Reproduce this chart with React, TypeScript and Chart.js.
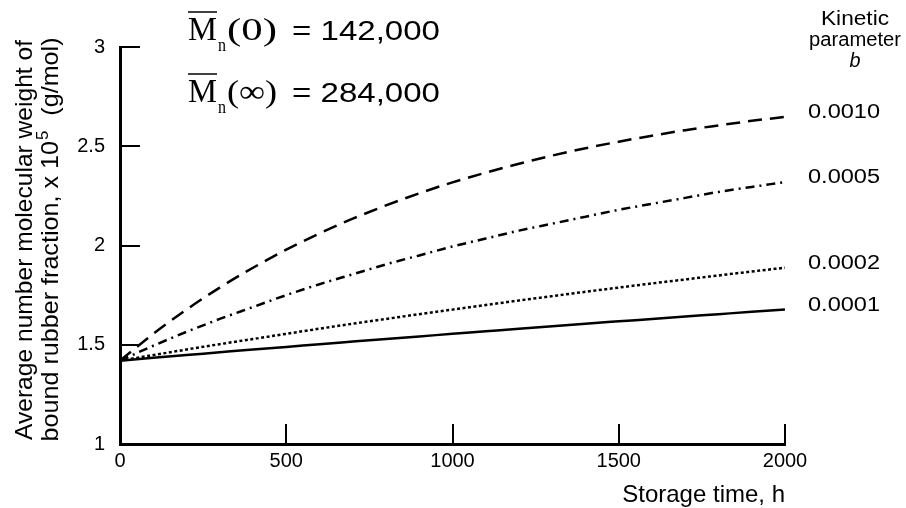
import React, { useEffect, useRef } from 'react';
import { Chart, registerables } from 'chart.js';

Chart.register(...registerables);

// Storage time, h
const timeHours = [0, 100, 200, 300, 400, 500, 600, 700, 800, 900, 1000, 1100, 1200, 1300, 1400, 1500, 1600, 1700, 1800, 1900, 2000];

// Average number molecular weight (x 10^5 g/mol)
const mnB0010 = [1.42, 1.555, 1.677, 1.788, 1.888, 1.979, 2.061, 2.135, 2.202, 2.263, 2.318, 2.367, 2.412, 2.453, 2.49, 2.523, 2.553, 2.581, 2.605, 2.628, 2.648];
const mnB0005 = [1.42, 1.495, 1.565, 1.63, 1.69, 1.75, 1.805, 1.855, 1.905, 1.95, 1.995, 2.035, 2.075, 2.11, 2.145, 2.18, 2.21, 2.24, 2.27, 2.295, 2.32];
const mnB0002 = [1.42, 1.448, 1.476, 1.503, 1.529, 1.555, 1.581, 1.606, 1.63, 1.654, 1.677, 1.7, 1.723, 1.745, 1.767, 1.788, 1.809, 1.829, 1.849, 1.869, 1.888];
const mnB0001 = [1.42, 1.434, 1.448, 1.462, 1.476, 1.489, 1.503, 1.516, 1.529, 1.542, 1.555, 1.568, 1.581, 1.593, 1.606, 1.618, 1.63, 1.642, 1.654, 1.666, 1.677];

const seriesLabels = ['0.0010', '0.0005', '0.0002', '0.0001'];
const seriesValues = [mnB0010, mnB0005, mnB0002, mnB0001];

const xTickStep = 500;
const yTickStep = 0.5;
const xRange = [0, 2000];
const yRange = [1, 3];

const SANS = '"Liberation Sans", Arial, Helvetica, sans-serif';
const SERIF = '"Liberation Serif", "Times New Roman", serif';

function drawFit(ctx: CanvasRenderingContext2D, text: string, x: number, y: number, width: number, align: CanvasTextAlign) {
  const w = ctx.measureText(text).width;
  const sx = w > 0 ? width / w : 1;
  ctx.save();
  ctx.translate(x, y);
  ctx.scale(sx, 1);
  ctx.textAlign = align;
  ctx.fillText(text, 0, 0);
  ctx.restore();
}

const textPlugin = {
  id: 'textPlugin',
  afterDraw(chart: any) {
    const ctx: CanvasRenderingContext2D = chart.ctx;
    const yScale = chart.scales.y;
    ctx.save();
    ctx.fillStyle = '#000';
    ctx.strokeStyle = '#000';

    // ---- Top annotation ----
    const rows = [
      { arg: '(0)', val: '= 142,000', base: 40 },
      { arg: '(\u221E)', val: '= 284,000', base: 102 },
    ];
    rows.forEach((r) => {
      ctx.textBaseline = 'alphabetic';
      ctx.font = `33px ${SERIF}`;
      drawFit(ctx, 'M', 188, r.base, 29, 'left');
      ctx.lineWidth = 1.5;
      ctx.beginPath();
      ctx.moveTo(188, r.base - 28);
      ctx.lineTo(217, r.base - 28);
      ctx.stroke();
      ctx.font = `19px ${SERIF}`;
      drawFit(ctx, 'n', 218, r.base + 11, 8, 'left');
      ctx.font = `32px ${SERIF}`;
      drawFit(ctx, r.arg, 227, r.base, 50, 'left');
      ctx.font = `28px ${SANS}`;
      drawFit(ctx, r.val, 292, r.base, 148, 'left');
    });

    // ---- Right side labels ----
    ctx.textBaseline = 'middle';
    ctx.font = `20px ${SANS}`;
    drawFit(ctx, 'Kinetic', 855, 19, 68, 'center');
    drawFit(ctx, 'parameter', 855, 40, 92, 'center');
    ctx.font = `italic 20px ${SANS}`;
    drawFit(ctx, 'b', 855, 61, 11, 'center');
    ctx.font = `20px ${SANS}`;
    seriesLabels.forEach((lab, i) => {
      const vals = seriesValues[i];
      const py = yScale.getPixelForValue(vals[vals.length - 1]) - 4;
      drawFit(ctx, lab, 808, py, 72, 'left');
    });

    // ---- Y axis title (two rotated lines) ----
    const yMid = 240;
    ctx.textBaseline = 'alphabetic';
    ctx.save();
    ctx.translate(32, yMid);
    ctx.rotate(-Math.PI / 2);
    ctx.font = `24px ${SANS}`;
    drawFit(ctx, 'Average number molecular weight of', 0, 0, 400, 'center');
    ctx.restore();

    ctx.save();
    ctx.translate(58, yMid);
    ctx.rotate(-Math.PI / 2);
    const p1 = 'bound rubber fraction, x 10';
    const p2 = '5';
    const p3 = '  (g/mol)';
    ctx.font = `24px ${SANS}`;
    const w1 = ctx.measureText(p1).width;
    const w3 = ctx.measureText(p3).width;
    ctx.font = `16px ${SANS}`;
    const w2 = ctx.measureText(p2).width + 1;
    const total = w1 + w2 + w3;
    const sx = 403 / total;
    ctx.scale(sx, 1);
    let cx = -total / 2;
    ctx.textAlign = 'left';
    ctx.font = `24px ${SANS}`;
    ctx.fillText(p1, cx, 0);
    cx += w1 + 1;
    ctx.font = `16px ${SANS}`;
    ctx.fillText(p2, cx, -10);
    cx += w2;
    ctx.font = `24px ${SANS}`;
    ctx.fillText(p3, cx, 0);
    ctx.restore();

    ctx.restore();
  },
};

export default function App() {
  const canvasRef = useRef<HTMLCanvasElement | null>(null);

  useEffect(() => {
    const canvas = canvasRef.current;
    if (!canvas) return;
    const dashes = [[14, 8], [9, 5, 2, 5], [3, 2.5], []];
    const chart = new Chart(canvas, {
      type: 'line',
      data: {
        datasets: seriesLabels.map((lab, i) => ({
          label: lab,
          data: timeHours.map((t, j) => ({ x: t, y: seriesValues[i][j] })),
          borderColor: '#000',
          backgroundColor: '#000',
          borderWidth: 2.5,
          borderDash: dashes[i],
          pointRadius: 0,
          fill: false,
          cubicInterpolationMode: 'monotone' as const,
        })),
      },
      options: {
        responsive: false,
        animation: false,
        layout: { padding: { left: 0, top: 45, right: 121, bottom: 0 } },
        plugins: {
          legend: { display: false },
          tooltip: { enabled: false },
        },
        scales: {
          x: {
            type: 'linear',
            min: xRange[0],
            max: xRange[1],
            ticks: {
              stepSize: xTickStep,
              callback: (v: any) => String(v),
              color: '#000',
              font: { family: SANS, size: 20 },
              padding: 25,
              maxRotation: 0,
              autoSkip: false,
            },
            grid: { display: true, drawOnChartArea: false, drawTicks: true, tickLength: -20, color: '#000', lineWidth: 2 },
            border: { display: true, color: '#000', width: 3 },
            title: {
              display: true,
              text: 'Storage time, h',
              align: 'end',
              color: '#000',
              font: { family: SANS, size: 24, lineHeight: 1 },
              padding: { top: 0, bottom: 1 },
            },
            afterFit: (s: any) => { s.height = 64; },
          },
          y: {
            type: 'linear',
            min: yRange[0],
            max: yRange[1],
            ticks: {
              stepSize: yTickStep,
              callback: (v: any) => String(v),
              color: '#000',
              font: { family: SANS, size: 20 },
              padding: 35,
            },
            grid: { display: true, drawOnChartArea: false, drawTicks: true, tickLength: -20, color: '#000', lineWidth: 2 },
            border: { display: true, color: '#000', width: 3 },
            afterFit: (s: any) => { s.width = 120; },
          },
        },
      } as any,
      plugins: [textPlugin],
    });
    return () => chart.destroy();
  }, []);

  return (
    <div style={{ position: 'absolute', left: 0, top: 0, width: 906, height: 508, background: '#fff' }}>
      <canvas ref={canvasRef} width={906} height={508} style={{ display: 'block' }} />
    </div>
  );
}
